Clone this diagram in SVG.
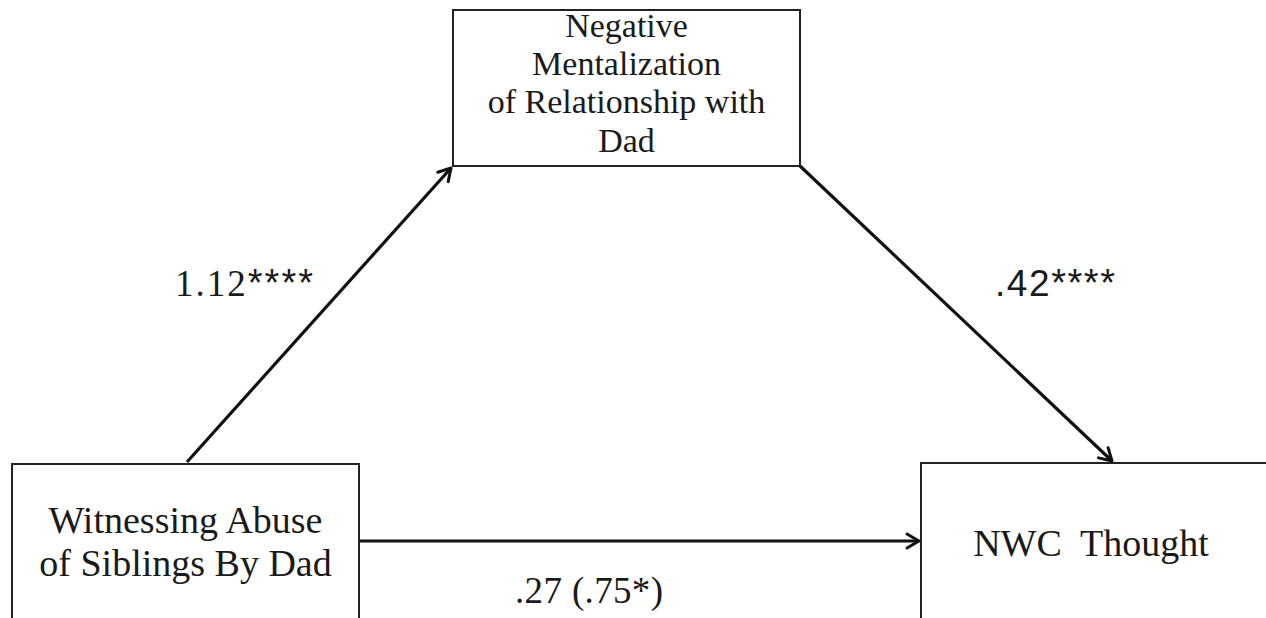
<svg xmlns="http://www.w3.org/2000/svg" width="1266" height="618" viewBox="0 0 1266 618">
  <style>
    .box { fill: #ffffff; stroke: #222222; stroke-width: 2; }
    .node-text { font-family: "Liberation Serif", "Times New Roman", serif; fill: #1a1a1a; text-anchor: middle; }
    .edge { stroke: #111111; stroke-width: 3.2; fill: none; }
    .edge-label { font-family: "Liberation Serif", "Times New Roman", serif; font-size: 37px; fill: #1a1a1a; }
    .sans { font-family: "Liberation Sans", Arial, sans-serif; }
  </style>
  <defs>
    <marker id="arrow" markerUnits="userSpaceOnUse" markerWidth="20" markerHeight="20" viewBox="0 0 20 20" refX="17" refY="10" orient="auto">
      <path d="M5,3 L17,10 L5,17" fill="none" stroke="#111111" stroke-width="3" stroke-linecap="round" stroke-linejoin="round"/>
    </marker>
  </defs>
  <rect width="1266" height="618" fill="#ffffff"/>

  <g id="connectors">
    <line class="edge" x1="187" y1="462" x2="451" y2="168" marker-end="url(#arrow)"/>
    <line class="edge" x1="800" y1="166" x2="1112" y2="461" marker-end="url(#arrow)"/>
    <line class="edge" x1="359" y1="541" x2="919" y2="541" marker-end="url(#arrow)"/>
    <text class="edge-label" x="175" y="296" textLength="138" lengthAdjust="spacing">1.12<tspan class="sans" font-size="38">****</tspan></text>
    <text class="edge-label sans" x="995" y="296" font-size="34" textLength="120" lengthAdjust="spacing">.42<tspan font-size="38">****</tspan></text>
    <text class="edge-label" x="515" y="603" font-size="36" textLength="148">.27 (.75*)</text>
  </g>

  <g id="mediator">
    <rect class="box" x="453" y="10" width="347" height="156"/>
    <text class="node-text" font-size="34" x="626.5" y="37">Negative</text>
    <text class="node-text" font-size="34" x="626.5" y="75">Mentalization</text>
    <text class="node-text" font-size="34" x="626.5" y="113">of Relationship with</text>
    <text class="node-text" font-size="34" x="626.5" y="152">Dad</text>
  </g>

  <g id="predictor">
    <rect class="box" x="12" y="464" width="347" height="200"/>
    <text class="node-text" font-size="38" x="185.5" y="533">Witnessing Abuse</text>
    <text class="node-text" font-size="38" x="185.5" y="576">of Siblings By Dad</text>
  </g>

  <g id="outcome">
    <rect class="box" x="921" y="463" width="400" height="200"/>
    <text class="node-text" font-size="38" x="1091" y="556" xml:space="preserve">NWC  Thought</text>
  </g>
</svg>
